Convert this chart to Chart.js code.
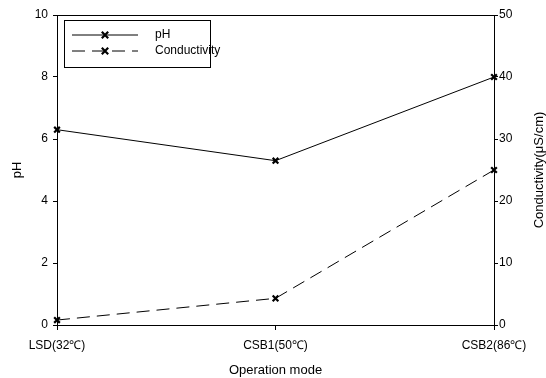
<!DOCTYPE html>
<html>
<head>
<meta charset="utf-8">
<script src="https://cdn.jsdelivr.net/npm/chart.js@4"></script>
<style>
  body { margin: 0; background: #fff; }
  #wrap { width: 546px; height: 378px; }
</style>
</head>
<body>
<div id="wrap"><canvas id="chart" width="546" height="378"></canvas></div>
<script>
// data
const modes = ["LSD(32\u2103)", "CSB1(50\u2103)", "CSB2(86\u2103)"];
const phValues = [6.3, 5.3, 8.0];
const condValues = [0.8, 4.3, 25];
const phTicks = [0, 2, 4, 6, 8, 10];
const condTicks = [0, 10, 20, 30, 40, 50];

const font = "'Liberation Sans', Arial, sans-serif";
const rightTitle = "Conductivity(\u03bcS/cm)";

// box legend in upper left, top frame line and right axis title (reads bottom to top)
const boxLegend = {
  id: "boxLegend",
  afterDraw(chart) {
    const ctx = chart.ctx;
    const a = chart.chartArea;
    ctx.save();
    ctx.strokeStyle = "#000";
    ctx.lineWidth = 1;
    ctx.beginPath();
    ctx.moveTo(a.left, a.top + 0.5);
    ctx.lineTo(a.right, a.top + 0.5);
    ctx.stroke();

    const x0 = a.left + 7, y0 = a.top + 5;
    ctx.strokeRect(x0 + 0.5, y0 + 0.5, 146, 47);
    chart.data.datasets.forEach((ds, i) => {
      const y = y0 + 15 + i * 16;
      ctx.setLineDash(ds.borderDash || []);
      ctx.lineWidth = 1;
      ctx.beginPath();
      ctx.moveTo(x0 + 8, y);
      ctx.lineTo(x0 + 74, y);
      ctx.stroke();
      ctx.setLineDash([]);
      ctx.lineWidth = 2.2;
      const mx = x0 + 41, r = 3.2;
      ctx.beginPath();
      ctx.moveTo(mx - r, y - r); ctx.lineTo(mx + r, y + r);
      ctx.moveTo(mx + r, y - r); ctx.lineTo(mx - r, y + r);
      ctx.stroke();
      ctx.fillStyle = "#000";
      ctx.font = "12px " + font;
      ctx.textBaseline = "middle";
      ctx.fillText(ds.label, x0 + 91, y);
    });

    ctx.translate(539, (a.top + a.bottom) / 2);
    ctx.rotate(-Math.PI / 2);
    ctx.font = "13px " + font;
    ctx.textAlign = "center";
    ctx.textBaseline = "middle";
    ctx.fillStyle = "#000";
    ctx.fillText(rightTitle, 0, 0);
    ctx.restore();
  }
};

new Chart(document.getElementById("chart"), {
  type: "line",
  data: {
    labels: modes,
    datasets: [
      {
        label: "pH",
        data: phValues,
        yAxisID: "y",
        borderColor: "#000",
        borderWidth: 1,
        pointStyle: "crossRot",
        pointRadius: 4,
        pointBorderWidth: 2.2,
        pointBorderColor: "#000",
        tension: 0
      },
      {
        label: "Conductivity",
        data: condValues,
        yAxisID: "y1",
        borderColor: "#000",
        borderWidth: 1,
        borderDash: [13, 7],
        pointStyle: "crossRot",
        pointRadius: 4,
        pointBorderWidth: 2.2,
        pointBorderColor: "#000",
        tension: 0
      }
    ]
  },
  options: {
    responsive: false,
    animation: false,
    layout: { padding: { top: 15, left: 0, right: 0, bottom: 0 } },
    plugins: {
      legend: { display: false },
      tooltip: { enabled: false }
    },
    scales: {
      x: {
        offset: false,
        grid: { drawOnChartArea: false, color: "#000", tickLength: 5 },
        border: { color: "#000", width: 1 },
        ticks: { color: "#000", font: { family: font, size: 12 }, maxRotation: 0, padding: 8 },
        title: { display: true, text: "Operation mode", color: "#000", font: { family: font, size: 13 }, padding: { top: 12, bottom: 0 } },
        afterFit(s) { s.height = 53; }
      },
      y: {
        position: "left",
        min: 0, max: 10,
        afterBuildTicks(s) { s.ticks = phTicks.map(v => ({ value: v })); },
        grid: { drawOnChartArea: false, color: "#000", tickLength: 4 },
        border: { color: "#000", width: 1 },
        ticks: { color: "#000", font: { family: font, size: 12 }, padding: 5 },
        title: { display: true, text: "pH", color: "#000", font: { family: font, size: 13 }, padding: { top: 10, bottom: 10 } },
        afterFit(s) { s.width = 57; }
      },
      y1: {
        position: "right",
        min: 0, max: 50,
        afterBuildTicks(s) { s.ticks = condTicks.map(v => ({ value: v })); },
        grid: { drawOnChartArea: false, color: "#000", tickLength: 4 },
        border: { color: "#000", width: 1 },
        ticks: { color: "#000", font: { family: font, size: 12 }, padding: 1 },
        afterFit(s) { s.width = 52; }
      }
    }
  },
  plugins: [boxLegend]
});
</script>
</body>
</html>
